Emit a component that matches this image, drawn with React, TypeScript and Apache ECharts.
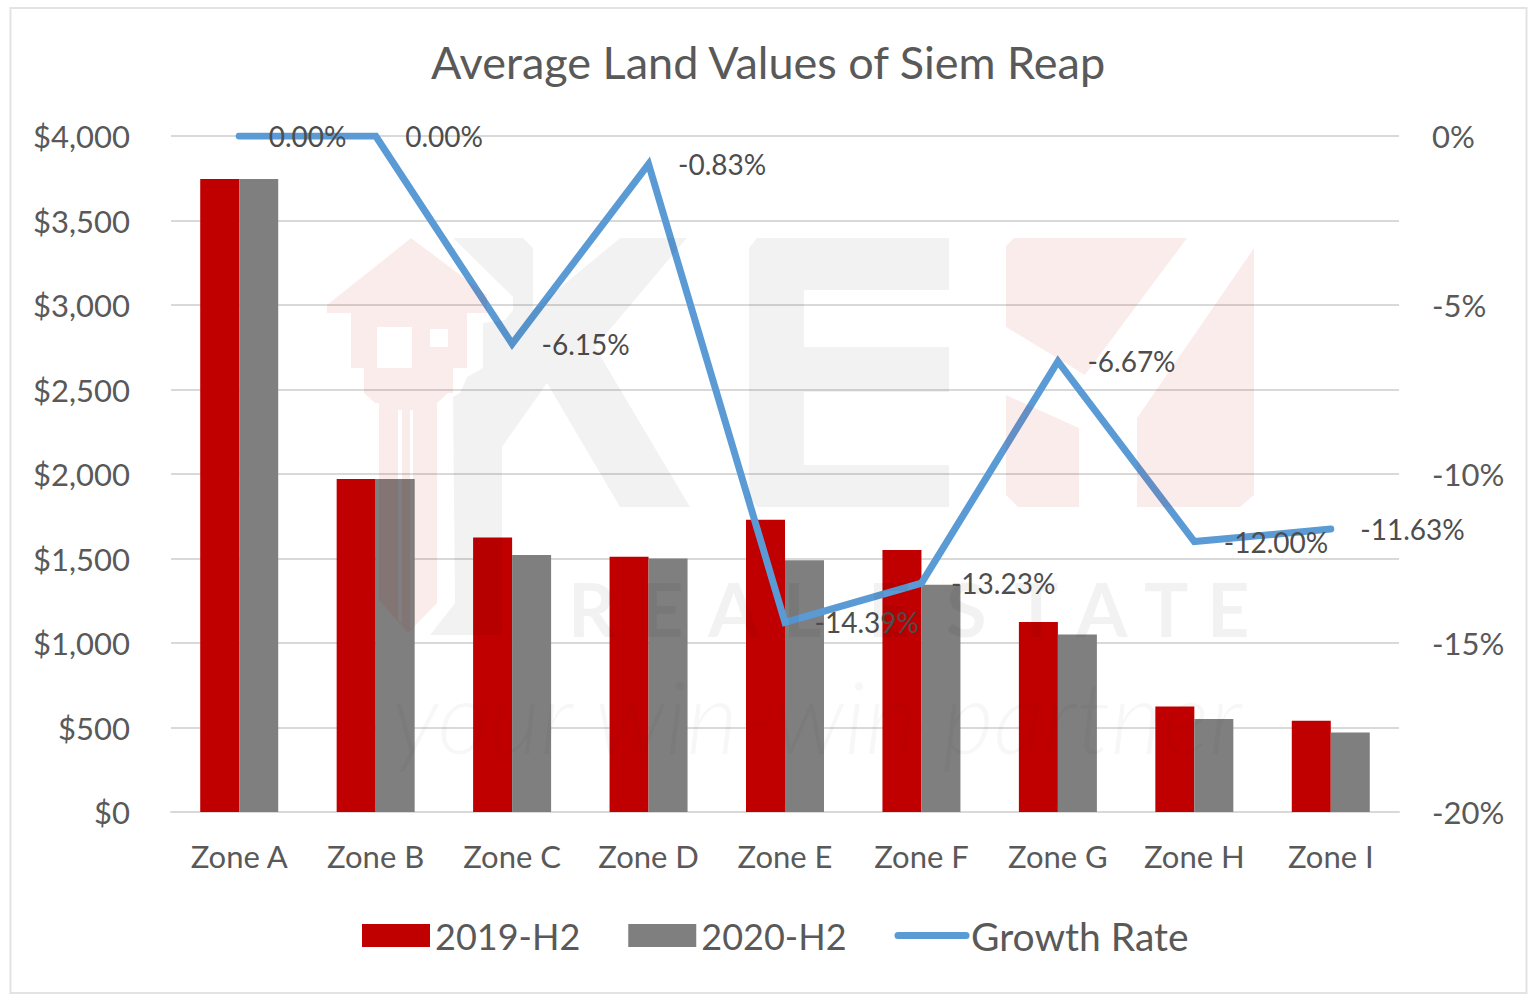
import React, { useEffect, useRef } from "react";
import * as echarts from "echarts";

const categories = ["Zone A", "Zone B", "Zone C", "Zone D", "Zone E", "Zone F", "Zone G", "Zone H", "Zone I"];
const values2019 = [3745, 1970, 1625, 1510, 1730, 1550, 1125, 625, 540];
const values2020 = [3745, 1970, 1520, 1500, 1490, 1345, 1050, 550, 470];
const growthRate = [0, 0, -6.15, -0.83, -14.39, -13.23, -6.67, -12.0, -11.63];
const watermarkLetters = [
  ["R", 568], ["E", 641], ["A", 708], ["L", 783], ["E", 868],
  ["S", 946], ["T", 1014], ["A", 1076], ["T", 1144], ["E", 1207],
] as [string, number][];

const FONT = "Lato";
const TEXT = "#595959";
const GRAY_WM = "rgba(0,0,0,0.05)";
const PINK_WM = "rgba(200,0,0,0.075)";

const KEY_D =
  "M411 238 L487 295 L487 313 L467 313 L467 368 L453 368 L453 393 L448 393 L437 403 L437 603 L408 633 L379 600 L379 403 L375 403 L364 393 L364 368 L351 368 L351 313 L327 313 L327 305 Z " +
  "M377 327 L377 368 L412 368 L412 327 Z M430 329 L430 347 L448 347 L448 329 Z " +
  "M398 410 L398 620 L402 624 L402 410 Z M410 410 L410 628 L413 628 L413 410 Z";
const K_D =
  "M453 238 L523 238 L533 248 L533 310 L620 238 L687 238 L595 347 L690 507 L620 507 L547 383 L502 447 L502 635 L430 635 L455 603 L453 397 L460 393 L467 377 L483 368 L483 323 L505 320 L513 310 L513 297 Z";
const E_D =
  "M757 238 L949 238 L949 290 L804 290 L804 347 L949 347 L949 392 L804 392 L804 465 L949 465 L949 507 L757 507 L749 497 L749 248 Z";
const Y_D =
  "M1014 238 L1187 238 L1085 375 L1006 327 L1006 246 Z " +
  "M1254 248 L1254 495 L1240 507 L1137 507 L1137 418 Z " +
  "M1006 395 L1079 428 L1079 507 L1018 507 L1006 495 Z";

echarts.graphic.registerShape("wmKey", echarts.graphic.extendPath(KEY_D, {}) as any);
echarts.graphic.registerShape("wmK", echarts.graphic.extendPath(K_D, {}) as any);
echarts.graphic.registerShape("wmE", echarts.graphic.extendPath(E_D, {}) as any);
echarts.graphic.registerShape("wmY", echarts.graphic.extendPath(Y_D, {}) as any);

export default function App() {
  const ref = useRef<HTMLDivElement>(null);
  useEffect(() => {
    const chart = echarts.init(ref.current!, null, { renderer: "svg" });
    chart.setOption({
      animation: false,
      backgroundColor: "#ffffff",
      textStyle: { fontFamily: FONT },
      title: {
        text: "Average Land Values of Siem Reap",
        left: "center",
        top: 34,
        textStyle: { fontFamily: FONT, fontSize: 45, fontWeight: "normal", color: TEXT },
      },
      legend: {
        left: 357,
        top: 911,
        itemWidth: 68,
        itemHeight: 23,
        itemGap: 48,
        textStyle: { fontFamily: FONT, fontSize: 36, color: TEXT },
        data: [
          { name: "2019-H2", icon: "rect" },
          { name: "2020-H2", icon: "rect" },
          {
            name: "Growth Rate",
            itemStyle: { opacity: 0 },
            lineStyle: { color: "#5B9BD5", width: 7, cap: "round" },
            textStyle: { fontFamily: FONT, fontSize: 39, color: TEXT },
          },
        ],
      },
      grid: { left: 171, right: 137, top: 136, bottom: 188 },
      xAxis: {
        type: "category",
        data: categories,
        axisTick: { show: false },
        axisLine: { lineStyle: { color: "#D9D9D9", width: 2 } },
        axisLabel: { color: TEXT, fontSize: 31, margin: 28, fontFamily: FONT },
      },
      yAxis: [
        {
          type: "value",
          min: 0,
          max: 4000,
          interval: 500,
          axisLine: { show: false },
          axisTick: { show: false },
          splitLine: { lineStyle: { color: "#D9D9D9", width: 2 } },
          axisLabel: {
            color: TEXT,
            fontSize: 31,
            margin: 41,
            padding: [0, 0, 3, 0],
            fontFamily: FONT,
            formatter: (v: number) => "$" + v.toLocaleString("en-US"),
          },
        },
        {
          type: "value",
          min: -20,
          max: 0,
          interval: 5,
          position: "right",
          axisLine: { show: false },
          axisTick: { show: false },
          splitLine: { show: false },
          axisLabel: {
            color: TEXT,
            fontSize: 31,
            margin: 33,
            padding: [0, 0, 3, 0],
            fontFamily: FONT,
            formatter: (v: number) => v + "%",
          },
        },
      ],
      series: [
        { name: "2019-H2", type: "bar", data: values2019, barWidth: 39, barGap: "0%", itemStyle: { color: "#C00000" } },
        { name: "2020-H2", type: "bar", data: values2020, barWidth: 39, barGap: "0%", itemStyle: { color: "#7F7F7F" } },
        {
          name: "Growth Rate",
          type: "line",
          yAxisIndex: 1,
          data: growthRate,
          symbol: "circle",
          symbolSize: 1,
          showSymbol: true,
          showAllSymbol: true,
          lineStyle: { color: "#5B9BD5", width: 7, cap: "round", join: "miter" },
          itemStyle: { color: "#5B9BD5" },
          label: {
            show: true,
            position: "right",
            distance: 29,
            color: "#4D4D4D",
            fontSize: 28,
            fontFamily: FONT,
            formatter: (p: any) => p.value.toFixed(2) + "%",
          },
        },
      ],
      graphic: [
        { type: "rect", silent: true, z: -1, shape: { x: 10.5, y: 8, width: 1516, height: 985 }, style: { fill: "none", stroke: "#E3E3E3", lineWidth: 2 } },
        { type: "wmKey", silent: true, z: 100, x: 0, y: 0, style: { fill: PINK_WM } },
        { type: "wmK", silent: true, z: 100, x: 0, y: 0, style: { fill: GRAY_WM } },
        { type: "wmE", silent: true, z: 100, x: 0, y: 0, style: { fill: GRAY_WM } },
        { type: "wmY", silent: true, z: 100, x: 0, y: 0, style: { fill: PINK_WM } },
        ...watermarkLetters.map(([ch, x]) => ({
          type: "text",
          silent: true,
          z: 100,
          x,
          y: 571,
          style: { text: ch, fill: GRAY_WM, font: `bold 74px ${FONT}` },
        })),
        {
          type: "text",
          silent: true,
          z: 100,
          x: 392,
          y: 665,
          style: { text: "your win-win partner", fill: "rgba(0,0,0,0.03)", font: `italic 300 100px ${FONT}` },
        },
      ],
    });
    return () => chart.dispose();
  }, []);
  return <div ref={ref} style={{ position: "absolute", left: 0, top: 0, width: 1536, height: 1000, background: "#fff" }} />;
}
